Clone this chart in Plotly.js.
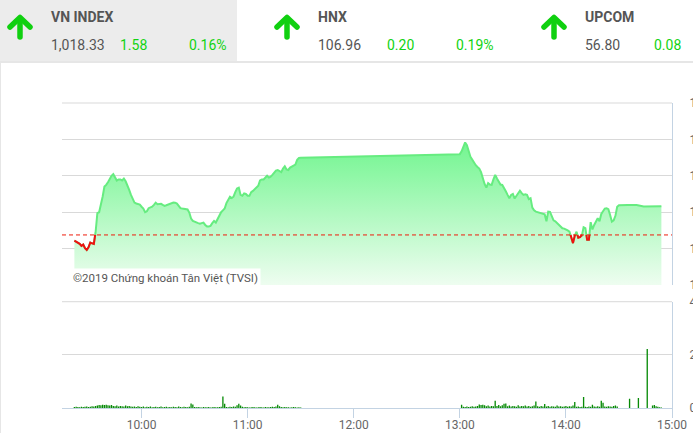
<!DOCTYPE html>
<html>
<head>
<meta charset="utf-8">
<script src="https://cdn.plot.ly/plotly-3.0.1.min.js"></script>
<style>
  html, body { margin: 0; padding: 0; background: #fff; }
  body { width: 693px; height: 433px; overflow: hidden; position: relative; font-family: Roboto, sans-serif; }
  #chart { position: absolute; left: 0; top: 0; width: 693px; height: 433px; }
  #hdr { position: absolute; left: 0; top: 0; width: 693px; height: 61px; border-bottom: 2px solid #e6e6e6; z-index: 5; }
  #hdr .grayblk { position: absolute; left: 0; top: 0; width: 237px; height: 61px; background: #ececec; }
  #hdr .t { position: absolute; font-size: 14px; line-height: 14px; white-space: nowrap; color: #555; }
  #hdr .name { font-weight: bold; top: 10px; }
  #hdr .val { top: 38px; }
  #hdr .up { color: #12d312; }
  #hdr svg { position: absolute; top: 14px; }
  #leftborder { position: absolute; left: 0; top: 62px; width: 1px; height: 371px; background: #e6e6e6; z-index: 5; }
</style>
</head>
<body>
<div id="chart"></div>
<div id="hdr"></div>
<div id="leftborder"></div>
<script>
// ---------------- header data ----------------
const indexNames   = ['VN INDEX', 'HNX', 'UPCOM'];
const indexValues  = ['1,018.33', '106.96', '56.80'];
const indexChanges = ['1.58', '0.20', '0.08'];
const indexPercents = ['0.16%', '0.19%', ''];

// ---------------- price data (VN-Index, intraday) ----------------
const sessionDate = [2019, 5, 10];
const prevClose = 1016.75;
const priceTimes = [
 '09:22','09:23','09:25','09:26','09:27','09:28','09:29','09:30','09:31','09:32','09:33','09:34','09:35',
 '09:36','09:37','09:38','09:39','09:40','09:41','09:42','09:43','09:44','09:45','09:46','09:47','09:48','09:49',
 '09:50','09:51','09:52','09:53','09:54','09:55','09:56','09:57','09:58','09:59',
 '10:00','10:01','10:02','10:03','10:04','10:05','10:06','10:07','10:08','10:09','10:10','10:11','10:12','10:13',
 '10:14','10:15','10:16','10:17','10:18','10:19','10:20','10:21','10:22','10:23','10:24','10:25','10:26','10:27',
 '10:28','10:29','10:30','10:31','10:32','10:33','10:34','10:35','10:36','10:37','10:38','10:39','10:40','10:41',
 '10:42','10:43','10:44','10:45','10:46','10:47','10:48','10:49','10:50','10:51','10:52','10:53','10:54','10:55',
 '10:56','10:57','10:58','10:59','11:00','11:01','11:02','11:03','11:04','11:05','11:06','11:07','11:08','11:09',
 '11:10','11:11','11:12','11:13','11:14','11:15','11:16','11:17','11:18','11:19','11:20','11:21','11:22','11:23',
 '11:24','11:25','11:26','11:27','11:28','11:29','11:30',
 '13:00','13:01','13:02','13:03','13:04','13:05','13:06','13:07','13:08','13:09','13:10','13:11','13:12','13:13',
 '13:14','13:15','13:16','13:17','13:18','13:19','13:20','13:21','13:22','13:23','13:24','13:25','13:26','13:27',
 '13:28','13:29','13:30','13:31','13:32','13:33','13:34','13:35','13:36','13:37','13:38','13:39','13:40','13:41',
 '13:42','13:43','13:44','13:45','13:46','13:47','13:48','13:49','13:50','13:51','13:52','13:53','13:54','13:55',
 '13:56','13:57','13:58','13:59','14:00','14:01','14:02','14:03','14:04','14:05','14:06','14:07','14:08','14:09',
 '14:10','14:11','14:12','14:13','14:14','14:15','14:16','14:17','14:18','14:19','14:20','14:21','14:22','14:23',
 '14:24','14:25','14:26','14:27','14:28','14:29','14:30','14:35','14:40','14:44','14:50','14:54'
];
const priceValues = [
 1016.44,1016.38,1016.26,1016.15,1016.22,1016.02,1015.93,1016.07,1016.33,1016.29,1016.26,1016.90,1017.95,
 1018.00,1018.40,1018.86,1019.41,1019.50,1019.65,1019.85,1020.00,1020.09,1019.95,1019.74,1019.80,1019.80,1019.74,
 1019.85,1019.70,1019.50,1019.23,1018.95,1018.70,1018.53,1018.48,1018.45,1018.42,
 1018.30,1018.20,1018.00,1018.05,1018.22,1018.26,1018.30,1018.40,1018.52,1018.44,1018.45,1018.46,1018.40,1018.35,
 1018.38,1018.42,1018.48,1018.50,1018.53,1018.52,1018.47,1018.35,1018.22,1018.20,1018.18,1018.18,1018.15,1017.98,
 1017.65,1017.52,1017.47,1017.42,1017.40,1017.37,1017.38,1017.43,1017.30,1017.22,1017.22,1017.25,1017.40,1017.52,
 1017.43,1017.65,1017.88,1018.00,1018.10,1018.20,1018.50,1018.67,1018.85,1018.78,1018.85,1019.10,1019.30,1019.35,
 1018.95,1018.90,1019.03,1019.00,1018.90,1018.90,1019.10,1019.17,1019.25,1019.35,1019.45,1019.75,1019.80,1019.80,
 1019.90,1020.00,1019.90,1019.95,1020.05,1020.18,1020.29,1020.32,1020.25,1020.20,1020.40,1020.52,1020.35,1020.32,
 1020.45,1020.52,1020.55,1020.62,1020.88,1020.98,1020.99,
 1021.19,1021.34,1021.60,1021.83,1021.68,1021.35,1021.05,1020.90,1020.72,1020.58,1020.48,1020.40,1020.20,1019.85,
 1019.55,1019.35,1019.60,1019.52,1019.50,1019.80,1020.05,1019.85,1019.65,1019.52,1019.50,1019.35,1019.15,1018.95,
 1018.77,1018.95,1019.00,1018.75,1018.90,1019.05,1019.18,1019.05,1018.95,1018.98,1018.95,1018.72,1018.77,1018.25,
 1018.10,1018.03,1018.00,1017.98,1017.97,1017.93,1017.88,1017.50,1018.03,1018.02,1017.75,1017.55,1017.50,1017.40,
 1017.33,1017.20,1017.12,1017.10,1017.07,1017.00,1016.93,1016.65,1016.30,1016.70,1016.93,1016.60,1016.63,1016.70,
 1017.17,1017.12,1016.48,1016.48,1017.45,1017.05,1017.30,1017.45,1017.67,1017.50,1017.90,1018.05,1018.20,1018.22,
 1018.17,1017.85,1017.48,1017.55,1017.80,1018.30,1018.38,1018.40,1018.40,1018.31,1018.33,1018.33
];

// ---------------- volume data (millions, one bar per minute) ----------------
const volMorningStart = '09:22';
const volMorning = [
 0.04,0.05,0.04,0.03,0.05,0.04,0.05,0.06,0.04,0.05,0.07,0.06,0.08,
 0.09,0.11,0.10,0.12,0.11,0.12,0.10,0.09,0.11,0.08,0.07,0.09,0.06,0.08,0.07,0.06,0.09,0.07,0.08,0.06,
 0.05,0.06,0.04,0.07,0.05,0.04,0.06,0.03,0.05,0.04,0.06,0.03,0.04,0.05,0.03,0.04,0.06,0.03,0.04,0.05,0.03,0.04,0.03,0.05,0.04,0.03,0.06,0.04,0.03,0.05,0.04,0.03,0.05,
 0.17,0.13,
 0.04,0.03,0.04,0.03,0.02,0.04,0.03,0.03,0.04,0.02,0.03,0.04,0.03,0.03,0.04,0.05,
 0.43,0.16,
 0.04,0.03,0.05,0.04,0.06,0.05,0.10,
 0.16,0.09,
 0.05,0.03,0.04,0.03,0.02,0.03,0.04,0.03,0.02,0.03,0.04,0.03,0.02,0.04,0.03,0.03,0.04,0.05,0.04,0.06,
 0.12,0.07,
 0.04,0.03,0.04,0.03,0.03,0.02,0.03,0.04,0.03,0.02,0.03,0.02
];
const volAfternoonStart = '13:01';
const volAfternoon = [
 0.12,
 0.05,0.04,0.06,0.04,0.05,0.07,0.05,0.06,0.08,
 0.13,0.11,0.12,0.10,
 0.07,0.09,0.06,0.08,0.07,
 0.27,
 0.08,0.11,0.07,0.10,
 0.16,0.17,
 0.07,0.09,0.06,0.08,0.07,0.05,0.10,0.06,0.08,0.07,0.09,0.06,0.08,0.05,0.07,0.09,
 0.24,
 0.07,0.05,0.08,0.06,
 0.15,
 0.06,0.08,0.05,0.07,0.06,0.05,0.09,0.06,0.07,0.05,0.06,0.08,0.05,0.07,0.06,0.09,
 0.23,
 0.05,0.06,0.04,0.05,
 0.41,
 0.05,0.04,0.06,0.05,
 0.12,
 0.06,0.05,0.07,0.05,
 0.27,0.20,
 0.06,0.05,0.07,0.06,0.05,0.08,0.09,0.06,
 0,0,0,0,0,0,
 0.35,
 0,0,0,0,
 0.38,
 0,0,0,0,
 2.22,
 0,0,
 0.09,0.11,0.07,0.05,0.03,0.02
];

// ---------------- axis labels ----------------
const priceTicks = [1014, 1016, 1018, 1020, 1022, 1024];
const priceTickText = ['1,014', '1,016', '1,018', '1,020', '1,022', '1,024'];
const volTicks = [0, 2, 4];
const volTickText = ['0', '2M', '4M'];
const axisStart = '09:15', axisEnd = '15:00', firstHourTick = '10:00';
const watermark = '©2019 Chứng khoán Tân Việt (TVSI)';

// ---------------- helpers ----------------
function toMs(hhmm) {
  const [h, m] = hhmm.split(':').map(Number);
  return Date.UTC(sessionDate[0], sessionDate[1], sessionDate[2], h, m);
}
const MIN = 60000;
const px = priceTimes.map(toMs);

// red segments where price is below previous close
const redX = [], redY = [];
for (let i = 0; i < px.length; i++) {
  const below = priceValues[i] < prevClose;
  if (below) { redX.push(px[i]); redY.push(priceValues[i]); }
  if (i < px.length - 1) {
    const nb = priceValues[i + 1] < prevClose;
    if (below !== nb) {
      const t = (prevClose - priceValues[i]) / (priceValues[i + 1] - priceValues[i]);
      redX.push(px[i] + t * (px[i + 1] - px[i])); redY.push(prevClose);
      if (below) { redX.push(null); redY.push(null); }
    }
  }
}

const volX = [], volY = [];
volMorning.forEach((v, i) => { volX.push(toMs(volMorningStart) + i * MIN); volY.push(v); });
volAfternoon.forEach((v, i) => { volX.push(toMs(volAfternoonStart) + i * MIN); volY.push(v); });

// ---------------- header ----------------
const hdr = document.getElementById('hdr');
const blockLeft = [0, 267, 534];
let html = '<div class="grayblk"></div>';
indexNames.forEach((n, i) => {
  const L = blockLeft[i];
  html += `<svg style="left:${L + 6}px" width="28" height="26" viewBox="0 0 28 26">
    <polyline points="4,13 14,3.5 24,13" fill="none" stroke="#10d010" stroke-width="5.5" stroke-linecap="round" stroke-linejoin="round"/>
    <line x1="14" y1="5" x2="14" y2="23" stroke="#10d010" stroke-width="5.5" stroke-linecap="round"/></svg>`;
  html += `<div class="t name" style="left:${L + 51}px">${n}</div>`;
  html += `<div class="t val" style="left:${L + 51}px">${indexValues[i]}</div>`;
  html += `<div class="t val up" style="left:${L + 120}px">${indexChanges[i]}</div>`;
  if (indexPercents[i]) html += `<div class="t val up" style="left:${L + 189}px">${indexPercents[i]}</div>`;
});
hdr.innerHTML = html;

// ---------------- chart ----------------
const gridC = '#d9d9d9', axisC = '#c3d3e3', tickFontC = '#666';
const traces = [
  {
    x: px, y: priceValues, type: 'scatter', mode: 'lines',
    line: { color: '#66ec80', width: 2 },
    fill: 'tozeroy',
    fillgradient: { type: 'vertical', start: 1014, stop: 1022,
      colorscale: [[0, 'rgb(238,253,240)'], [1, 'rgb(112,245,142)']] },
    xaxis: 'x', yaxis: 'y', hoverinfo: 'skip'
  },
  {
    x: redX, y: redY, type: 'scatter', mode: 'lines',
    line: { color: '#f01010', width: 2 }, connectgaps: false,
    xaxis: 'x', yaxis: 'y', hoverinfo: 'skip'
  },
  {
    x: volX, y: volY, type: 'bar', marker: { color: '#078a07', line: { width: 0 } },
    width: 0.75 * MIN, xaxis: 'x', yaxis: 'y2', hoverinfo: 'skip'
  }
];

const layout = {
  width: 693, height: 433,
  margin: { l: 62, r: 21, t: 103, b: 25 },
  paper_bgcolor: '#fff', plot_bgcolor: 'rgba(0,0,0,0)',
  showlegend: false,
  font: { family: 'Roboto, sans-serif', size: 12, color: tickFontC },
  xaxis: {
    type: 'date', anchor: 'y2',
    range: [toMs(axisStart), toMs(axisEnd)],
    tick0: toMs(firstHourTick), dtick: 60 * MIN, tickformat: '%H:%M',
    showgrid: false, zeroline: false,
    showline: true, linecolor: axisC, linewidth: 1,
    ticks: 'outside', ticklen: 9, tickcolor: axisC, tickwidth: 1,
    ticklabelstandoff: -3,
    tickfont: { size: 12, color: tickFontC }
  },
  yaxis: {
    domain: [0.4033, 1], range: [1014, 1024],
    tickvals: priceTicks, ticktext: priceTickText,
    side: 'right', anchor: 'x',
    showgrid: true, gridcolor: gridC, gridwidth: 1, zeroline: false,
    showline: true, linecolor: axisC, linewidth: 1,
    ticks: '', ticklabelstandoff: 14,
    tickfont: { size: 12, color: tickFontC }
  },
  yaxis2: {
    domain: [0, 0.3485], range: [0, 4],
    tickvals: volTicks, ticktext: volTickText,
    side: 'right', anchor: 'x',
    showgrid: true, gridcolor: gridC, gridwidth: 1, zeroline: false,
    showline: true, linecolor: axisC, linewidth: 1,
    ticks: '', ticklabelstandoff: 14,
    tickfont: { size: 12, color: tickFontC }
  },
  shapes: [
    { type: 'line', xref: 'paper', x0: 0, x1: 1, yref: 'y domain', y0: 1, y1: 1,
      line: { color: gridC, width: 1 }, layer: 'below' },
    { type: 'line', xref: 'paper', x0: 0, x1: 1, yref: 'y2 domain', y0: 1, y1: 1,
      line: { color: gridC, width: 1 }, layer: 'below' },
    { type: 'line', xref: 'paper', x0: 0, x1: 1, yref: 'y', y0: prevClose, y1: prevClose,
      line: { color: '#ee1c0c', width: 1, dash: '4px,3px' }, layer: 'above' }
  ],
  annotations: [
    { text: watermark, xref: 'paper', yref: 'paper', x: 0, y: 0.426, xanchor: 'left', yanchor: 'middle',
      xshift: 8, showarrow: false, bgcolor: '#ffffff', borderpad: 2,
      font: { family: 'Roboto, sans-serif', size: 11.5, color: '#555' } }
  ]
};

Plotly.newPlot('chart', traces, layout, { staticPlot: true, displayModeBar: false });
</script>
</body>
</html>
